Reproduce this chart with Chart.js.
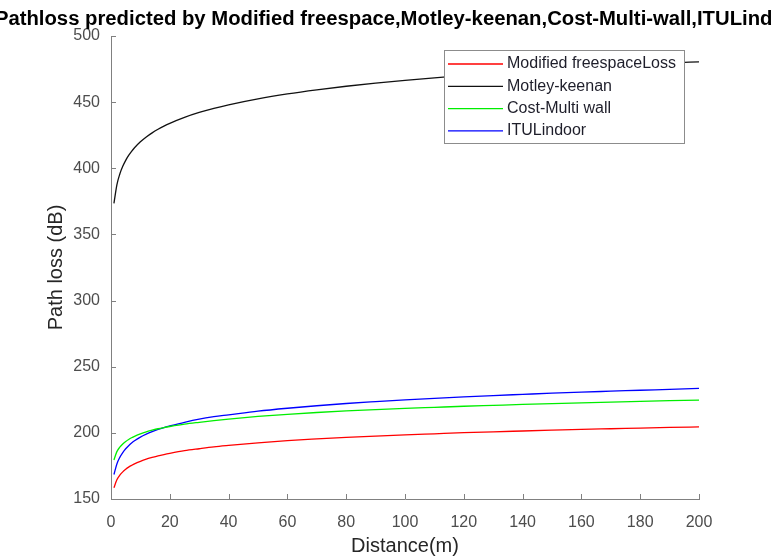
<!DOCTYPE html>
<html>
<head>
<meta charset="utf-8">
<script src="https://cdn.jsdelivr.net/npm/chart.js@4"></script>
<style>
html,body{margin:0;padding:0;background:#fff;}
canvas{display:block;}
</style>
</head>
<body>
<canvas id="c" width="772" height="558"></canvas>
<script>
const titleText = 'Pathloss predicted by Modified freespace,Motley-keenan,Cost-Multi-wall,ITULindoor';
const xLabel = 'Distance(m)';
const yLabel = 'Path loss (dB)';
const seriesNames = ['Modified freespaceLoss', 'Motley-keenan', 'Cost-Multi wall', 'ITULindoor'];
const seriesColors = ['#ff0000', '#111111', '#00ee00', '#0000ff'];

const distance = [1,2,3,4,5,6,7,8,10,12,14,16,18,20,25,30,35,40,50,60,70,80,90,100,110,120,130,140,150,160,170,180,190,200];

const freespace = [158.5,164.5,168.0,170.5,172.5,174.1,175.4,176.6,178.5,180.1,181.4,182.6,183.6,184.5,186.5,188.0,189.4,190.5,192.5,194.1,195.4,196.6,197.6,198.5,199.3,200.1,200.8,201.4,202.0,202.6,203.1,203.6,204.1,204.5];
const motley = [373.5,387.5,395.7,401.5,406.0,409.7,412.8,415.5,420.0,423.7,426.8,429.5,431.9,434.0,438.5,442.2,445.3,448.0,452.5,456.2,459.3,462.0,464.4,466.5,468.4,470.2,471.8,473.3,474.7,476.0,477.2,478.4,479.5,480.5];
const costMulti = [179.5,185.8,189.2,191.6,193.5,195.0,196.3,197.4,199.3,200.8,202.0,203.1,204.0,204.8,206.6,208.0,209.3,210.4,212.4,214.0,215.4,216.6,217.6,218.5,219.3,220.1,220.8,221.5,222.1,222.7,223.3,223.8,224.3,224.8];
const ituIndoor = [168.5,176.5,181.5,185.1,188.0,190.3,192.3,194.0,196.8,199.0,200.9,202.6,204.0,205.2,208.0,210.4,212.2,213.6,216.4,218.6,220.5,222.2,223.6,224.9,226.1,227.2,228.2,229.1,230.0,230.8,231.5,232.2,232.9,233.6];

const xTicks = [0,20,40,60,80,100,120,140,160,180,200];
const yTicks = [150,200,250,300,350,400,450,500];

const seriesValues = [freespace, motley, costMulti, ituIndoor];
const datasets = seriesNames.map((n, i) => ({
  label: n,
  data: distance.map((d, j) => ({x: d, y: seriesValues[i][j]})),
  borderColor: seriesColors[i],
  borderWidth: 1.3,
  pointRadius: 0,
  fill: false,
  cubicInterpolationMode: 'monotone'
}));

const AXIS_COLOR = '#808080';
const FONT = "'Liberation Sans', Arial, sans-serif";

const titlePlugin = {
  id: 'matlabTitle',
  afterDraw(chart) {
    const ctx = chart.ctx, a = chart.chartArea;
    ctx.save();
    ctx.font = 'bold 20.3px ' + FONT;
    ctx.fillStyle = '#000';
    ctx.textAlign = 'center';
    ctx.textBaseline = 'middle';
    ctx.fillText(titleText, (a.left + a.right) / 2 - 5, 19.5);
    ctx.restore();
  }
};

const innerTicks = {
  id: 'innerTicks',
  afterDraw(chart) {
    const ctx = chart.ctx, a = chart.chartArea;
    const xs = chart.scales.x, ys = chart.scales.y;
    ctx.save();
    ctx.strokeStyle = AXIS_COLOR;
    ctx.lineWidth = 1;
    ctx.beginPath();
    xTicks.forEach(v => {
      const px = Math.round(xs.getPixelForValue(v)) + 0.5;
      ctx.moveTo(px, a.bottom); ctx.lineTo(px, a.bottom - 5);
    });
    yTicks.forEach(v => {
      const py = Math.round(ys.getPixelForValue(v)) + 0.5;
      ctx.moveTo(a.left, py); ctx.lineTo(a.left + 5, py);
    });
    ctx.stroke();
    ctx.restore();
  }
};

const boxLegend = {
  id: 'boxLegend',
  afterDatasetsDraw(chart) {
    const ctx = chart.ctx, a = chart.chartArea;
    const left = a.right - 255, top = a.top + 14, w = 240, h = 93;
    ctx.save();
    ctx.fillStyle = '#fff';
    ctx.fillRect(left, top, w, h);
    ctx.strokeStyle = '#8c8c8c';
    ctx.lineWidth = 1;
    ctx.strokeRect(left + 0.5, top + 0.5, w, h);
    ctx.font = '16px ' + FONT;
    ctx.textBaseline = 'middle';
    ctx.textAlign = 'left';
    chart.data.datasets.forEach((ds, i) => {
      const y = top + 14 + i * 22.3;
      ctx.strokeStyle = ds.borderColor;
      ctx.lineWidth = 1.3;
      ctx.beginPath();
      ctx.moveTo(left + 4, y); ctx.lineTo(left + 59, y);
      ctx.stroke();
      ctx.fillStyle = '#1e1e2a';
      ctx.fillText(ds.label, left + 63, y);
    });
    ctx.restore();
  }
};

new Chart(document.getElementById('c'), {
  type: 'line',
  data: { datasets },
  options: {
    responsive: false,
    animation: false,
    devicePixelRatio: 1,
    layout: { padding: { top: 36, right: 73, left: 0, bottom: 0 } },
    plugins: {
      legend: { display: false },
      title: { display: false },
      tooltip: { enabled: false }
    },
    scales: {
      x: {
        type: 'linear',
        min: 0, max: 200,
        afterFit(s) { s.height = 59; },
        afterBuildTicks(s) { s.ticks = xTicks.map(v => ({value: v})); },
        grid: { display: false, drawTicks: false },
        border: { display: true, color: AXIS_COLOR, width: 1 },
        ticks: { color: '#4d4d4d', font: { family: FONT, size: 16 }, padding: 14, maxRotation: 0 },
        title: { display: true, text: xLabel, color: '#262626', font: { family: FONT, size: 20 }, padding: { top: 0, bottom: 0 } }
      },
      y: {
        type: 'linear',
        min: 150, max: 500,
        afterFit(s) { s.width = 111; },
        afterBuildTicks(s) { s.ticks = yTicks.map(v => ({value: v})); },
        grid: { display: false, drawTicks: false },
        border: { display: true, color: AXIS_COLOR, width: 1 },
        ticks: { color: '#4d4d4d', font: { family: FONT, size: 16 }, padding: 11 },
        title: { display: true, text: yLabel, color: '#262626', font: { family: FONT, size: 20 }, padding: { top: 44, bottom: 0 } }
      }
    }
  },
  plugins: [titlePlugin, innerTicks, boxLegend]
});
</script>
</body>
</html>
